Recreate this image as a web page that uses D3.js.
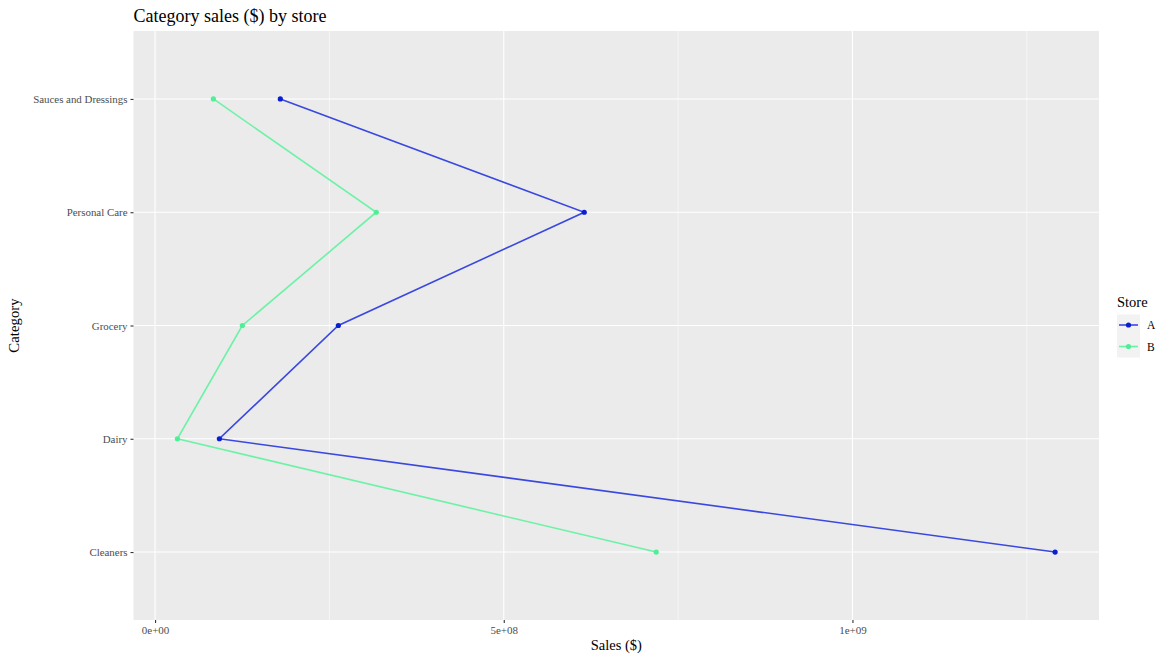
<!DOCTYPE html>
<html><head><meta charset="utf-8">
<script src="https://cdn.jsdelivr.net/npm/d3@7"></script>
<style>body{margin:0;background:#fff}svg text{font-family:"Liberation Serif","DejaVu Serif",serif}</style>
</head><body>
<svg id="c" width="1162" height="658"></svg>
<script>
const categories = ["Cleaners","Dairy","Grocery","Personal Care","Sauces and Dressings"];
const storeA = [1.2906e9, 9.22e7, 2.628e8, 6.154e8, 1.796e8];
const storeB = [7.186e8, 3.2e7, 1.251e8, 3.172e8, 8.36e7];
const stores = ["A","B"];
const xTicks = [0, 5e8, 1e9];
const xTickLabels = ["0e+00","5e+08","1e+09"];
const xMinor = [2.5e8, 7.5e8, 1.25e9];

const colors = {A:{pt:"#0a1fd0", ln:"#3a48e0"}, B:{pt:"#4ef095", ln:"#6cf2a6"}};
const svg = d3.select("#c");
const L=133.5, R=1099, T=31, B=620;
const all = storeA.concat(storeB);
const mn = d3.min(all), mx = d3.max(all), pad=(mx-mn)*0.05;
const x = d3.scaleLinear().domain([mn-pad, mx+pad]).range([L,R]);
const y = d3.scalePoint().domain(categories).range([B,T]).padding(0.6);

svg.append("rect").attr("x",L).attr("y",T).attr("width",R-L).attr("height",B-T).attr("fill","#ebebeb");
const g = svg.append("g");
xMinor.forEach(v=>g.append("line").attr("x1",x(v)).attr("x2",x(v)).attr("y1",T).attr("y2",B).attr("stroke","#fff").attr("stroke-width",0.55));
xTicks.forEach(v=>g.append("line").attr("x1",x(v)).attr("x2",x(v)).attr("y1",T).attr("y2",B).attr("stroke","#fff").attr("stroke-width",1.1));
categories.forEach(c=>g.append("line").attr("x1",L).attr("x2",R).attr("y1",y(c)).attr("y2",y(c)).attr("stroke","#fff").attr("stroke-width",1.1));

// axes
const xa = svg.append("g").attr("transform",`translate(0,${B})`).call(d3.axisBottom(x).tickValues(xTicks).tickFormat((d,i)=>xTickLabels[i]).tickSize(3).tickPadding(3));
xa.select(".domain").remove();
xa.selectAll("line").attr("stroke","#333").attr("stroke-width",1.1);
xa.selectAll("text").attr("fill","#4d4d4d").style("font-size","11px").style("font-family","Liberation Serif");
const ya = svg.append("g").attr("transform",`translate(${L},0)`).call(d3.axisLeft(y).tickSize(3).tickPadding(3));
ya.select(".domain").remove();
ya.selectAll("line").attr("stroke","#333").attr("stroke-width",1.1);
ya.selectAll("text").attr("fill","#4d4d4d").style("font-size","10.9px").style("font-family","Liberation Serif");

const data = {A:storeA, B:storeB};
const line = d3.line().x(d=>x(d.v)).y(d=>y(d.c));
stores.forEach(s=>{
  const pts = categories.map((c,i)=>({c, v:data[s][i]}));
  svg.append("path").attr("d",line(pts)).attr("fill","none").attr("stroke",colors[s].ln).attr("stroke-width",1.6);
  svg.selectAll(null).data(pts).enter().append("circle").attr("cx",d=>x(d.v)).attr("cy",d=>y(d.c)).attr("r",2.6).attr("fill",colors[s].pt);
});

svg.append("text").attr("x",L).attr("y",22).text("Category sales ($) by store").style("font-size","18px").attr("fill","#000");
svg.append("text").attr("x",(L+R)/2).attr("y",650).attr("text-anchor","middle").text("Sales ($)").style("font-size","14.5px");
svg.append("text").attr("transform",`translate(19,${(T+B)/2}) rotate(-90)`).attr("text-anchor","middle").text("Category").style("font-size","14.8px");

// legend
const lg = svg.append("g");
lg.append("text").attr("x",1117).attr("y",307).text("Store").style("font-size","14.5px");
stores.forEach((s,i)=>{
  const cy = 325 + i*21.5;
  lg.append("rect").attr("x",1117).attr("y",cy-10.5).attr("width",23).attr("height",21.5).attr("fill","#f2f2f2");
  lg.append("line").attr("x1",1119).attr("x2",1138).attr("y1",cy).attr("y2",cy).attr("stroke",colors[s].ln).attr("stroke-width",1.6);
  lg.append("circle").attr("cx",1128.5).attr("cy",cy).attr("r",2.6).attr("fill",colors[s].pt);
  lg.append("text").attr("x",1147).attr("y",cy+4).text(s).style("font-size","11.5px");
});
</script>
</body></html>
